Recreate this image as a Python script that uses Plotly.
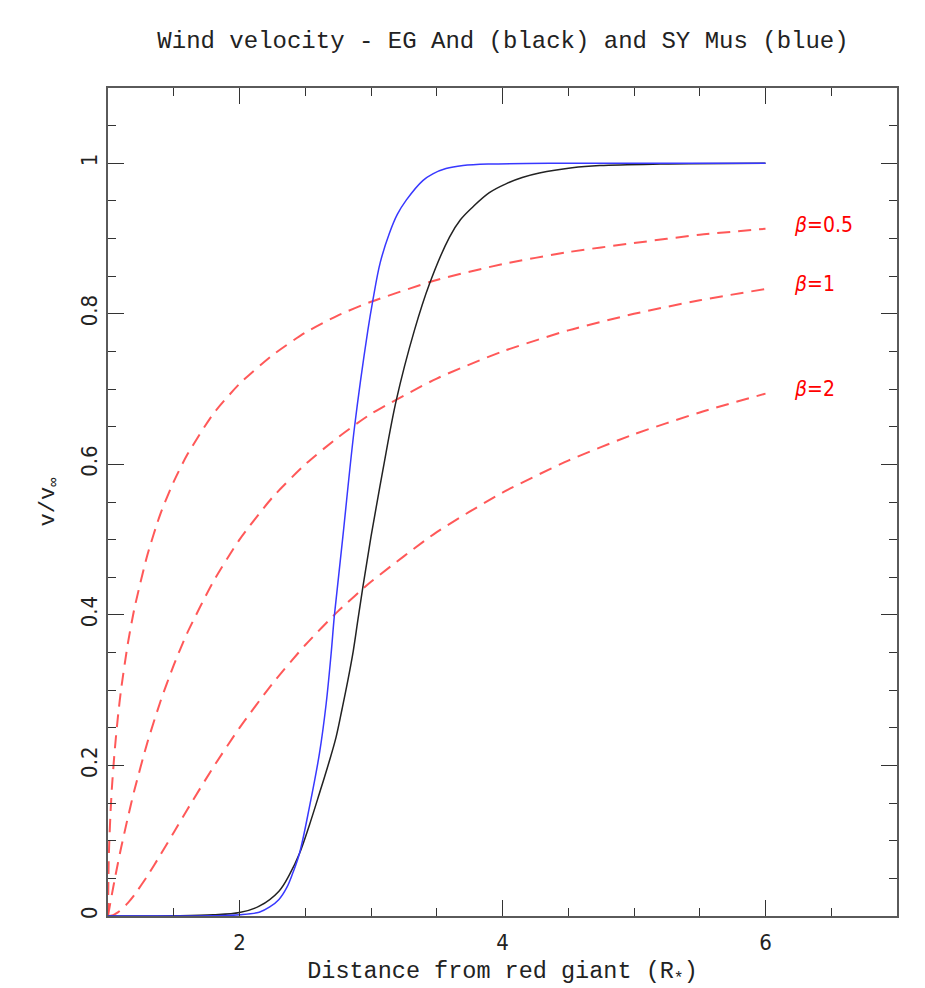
import plotly.graph_objects as go

# ---- data ----
r_beta = [1.0, 1.005, 1.01, 1.02, 1.03, 1.05, 1.075, 1.1, 1.15, 1.2, 1.3, 1.4, 1.5, 1.6, 1.8,
          2.0, 2.25, 2.5, 2.75, 3.0, 3.5, 4.0, 4.5, 5.0, 5.5, 6.0]
v_beta05 = [0.0, 0.0705, 0.0995, 0.140, 0.171, 0.218, 0.264, 0.3015, 0.361, 0.408, 0.480, 0.535,
            0.577, 0.612, 0.667, 0.707, 0.745, 0.775, 0.798, 0.816, 0.845, 0.866, 0.882, 0.894,
            0.905, 0.913]
v_beta1 = [0.0, 0.005, 0.0099, 0.0196, 0.029, 0.0476, 0.0698, 0.0909, 0.130, 0.1667, 0.2308,
           0.2857, 0.3333, 0.375, 0.444, 0.5, 0.556, 0.6, 0.636, 0.667, 0.714, 0.75, 0.778,
           0.8, 0.818, 0.833]
v_beta2 = [0.0, 0.00002, 0.0001, 0.0004, 0.0008, 0.0023, 0.0049, 0.0083, 0.0170, 0.0278, 0.0533,
           0.0816, 0.111, 0.1406, 0.1975, 0.25, 0.3086, 0.36, 0.405, 0.444, 0.510, 0.5625,
           0.605, 0.64, 0.669, 0.694]

r_egand = [1.0, 1.5, 1.8, 2.0, 2.15, 2.3, 2.38, 2.456, 2.53, 2.608, 2.68, 2.735, 2.78, 2.824,
           2.865, 2.90, 2.938, 3.0, 3.09, 3.192, 3.33, 3.445, 3.597, 3.68, 3.774, 3.9, 4.03,
           4.15, 4.28, 4.53, 4.74, 5.2, 6.0]
v_egand = [0.0, 0.0003, 0.0015, 0.0045, 0.013, 0.033, 0.055, 0.083, 0.120, 0.163, 0.204, 0.238,
           0.275, 0.313, 0.352, 0.393, 0.437, 0.504, 0.592, 0.685, 0.778, 0.840, 0.902, 0.925,
           0.942, 0.961, 0.973, 0.981, 0.987, 0.994, 0.997, 0.999, 1.0]

r_symus = [1.0, 1.5, 1.8, 2.0, 2.15, 2.23, 2.3, 2.36, 2.405, 2.456, 2.532, 2.608, 2.659, 2.697,
           2.722, 2.786, 2.875, 2.976, 3.014, 3.07, 3.14, 3.2, 3.268, 3.394, 3.47, 3.57, 3.70,
           3.90, 4.5, 6.0]
v_symus = [0.0, 0.0, 0.0002, 0.0015, 0.005, 0.012, 0.022, 0.038, 0.057, 0.083, 0.145, 0.216,
           0.282, 0.349, 0.400, 0.504, 0.650, 0.778, 0.818, 0.868, 0.907, 0.932, 0.951, 0.977,
           0.986, 0.993, 0.997, 0.999, 1.0, 1.0]

beta_labels = ["<i>β</i>=0.5", "<i>β</i>=1", "<i>β</i>=2"]
beta_label_x = [6.2, 6.2, 6.2]
beta_label_y = [0.918, 0.840, 0.700]

title_text = "Wind velocity - EG And (black) and SY Mus (blue)"
x_title = "Distance from red giant (R<sub>*</sub>)"
y_title = "v/v<sub>∞</sub>"

MONO = "Liberation Mono, DejaVu Sans Mono, monospace"
COND = "DejaVu Sans Condensed, Liberation Sans Narrow, sans-serif"
RED = "rgba(255,70,70,0.9)"

fig = go.Figure()
for vals in (v_beta05, v_beta1, v_beta2):
    fig.add_trace(go.Scatter(x=r_beta, y=vals, mode="lines",
                             line=dict(color=RED, width=2, dash="13px,8px", shape="spline",
                                       smoothing=0.6),
                             showlegend=False, hoverinfo="skip"))
fig.add_trace(go.Scatter(x=r_egand, y=v_egand, mode="lines",
                         line=dict(color="#222222", width=1.5, shape="spline", smoothing=1.0),
                         showlegend=False))
fig.add_trace(go.Scatter(x=r_symus, y=v_symus, mode="lines",
                         line=dict(color="#3838ff", width=1.5, shape="spline", smoothing=1.0),
                         showlegend=False))

for t, xx, yy in zip(beta_labels, beta_label_x, beta_label_y):
    fig.add_annotation(x=xx, y=yy, text=t, showarrow=False, xanchor="left", yanchor="middle",
                       font=dict(family=COND, size=21, color="red"))

axis_common = dict(showgrid=False, zeroline=False, showline=True, linecolor="#5a5a5a",
                   linewidth=2, mirror="allticks", ticks="inside", ticklen=16, tickwidth=1,
                   tickcolor="#333333", automargin=False,
                   tickfont=dict(family=COND, size=22, color="#222222"))

fig.update_xaxes(range=[1, 7], tick0=0, dtick=2, ticklabelstandoff=6, **axis_common,
                 minor=dict(ticks="inside", ticklen=8, dtick=0.5, tick0=0, tickcolor="#333333"),
                 title=dict(text=x_title, font=dict(family=MONO, size=23.5, color="#222222"),
                            standoff=31))
fig.update_yaxes(range=[0, 1.1], tick0=0, dtick=0.2, tickangle=-90, **axis_common,
                 minor=dict(ticks="inside", ticklen=8, dtick=0.05, tick0=0, tickcolor="#333333"),
                 title=dict(text=y_title, font=dict(family=MONO, size=22, color="#222222"),
                            standoff=17))

# the page body adds ~8px offset; size/margins compensate
fig.update_layout(
    width=917, height=980,
    margin=dict(l=100, r=28, t=80, b=72),
    paper_bgcolor="white", plot_bgcolor="white",
    title=dict(text=title_text, x=(503 - 8) / 917, xanchor="center", y=1 - 32 / 980,
               yanchor="middle", xref="container", yref="container",
               font=dict(family=MONO, size=24, color="#222222")),
)

fig.write_html("out.html")
